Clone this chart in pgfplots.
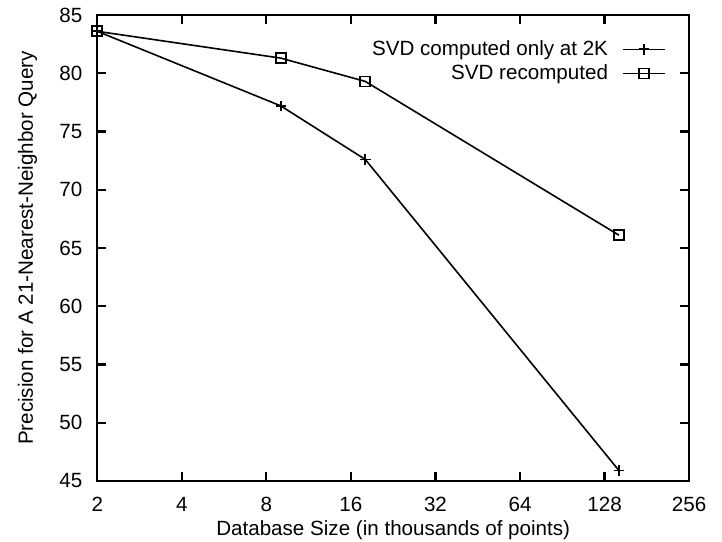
\documentclass[border=0pt]{standalone}
\usepackage{fontspec}
\setmainfont{Liberation Sans}
\usepackage{pgfplots}
\pgfplotsset{compat=1.18}
\begin{document}
\fontsize{10.3}{12}\selectfont
\begin{tikzpicture}
\useasboundingbox (-48.65pt,-30pt) rectangle (312.35pt,240.5pt);
\begin{axis}[
  anchor=south west, at={(0pt,0pt)},
  scale only axis,
  width=295.9pt, height=233pt,
  xmode=log, log basis x=2,
  xmin=2, xmax=256,
  ymin=45, ymax=85,
  xtick={2,4,8,16,32,64,128,256},
  xticklabels={2,4,8,16,32,64,128,256},
  ytick={45,50,55,60,65,70,75,80,85},
  minor tick num=0,
  tick align=inside,
  major tick length=4.5pt,
  /pgf/number format/assume math mode=true,
  tick label style={font=\fontsize{10.3}{12}\selectfont},
  xticklabel style={yshift=-4.5pt},
  yticklabel style={xshift=-3.9pt},
  label style={font=\fontsize{10.3}{12}\selectfont},
  axis line style={line width=1.1pt},
  every tick/.style={line width=1.1pt, black},
  xlabel={Database Size (in thousands of points)},
  ylabel={Precision for A 21-Nearest-Neighbor Query},
  xlabel style={at={(axis description cs:0.5,-0.1159)}, anchor=base},
  ylabel style={at={(axis description cs:-0.1087,0.5)}, anchor=base},
  legend plot pos=right,
  legend cell align=right,
  legend image code/.code={\draw[mark repeat=2,mark phase=2,#1] plot coordinates {(0pt,0pt) (10.5pt,0pt) (21pt,0pt)};},
  legend style={draw=none, fill=none, at={(axis description cs:0.961,0.955)}, anchor=north east,
    font=\fontsize{10.3}{12}\selectfont, row sep=-1pt, column sep=5pt, inner sep=0pt,
    nodes={inner sep=2pt}},
]
\addplot[black, line width=0.8pt, mark=+, mark size=2.6pt, mark options={line width=0.9pt}]
  coordinates {(2,83.6) (9,77.2) (18,72.6) (144,45.9)};
\addlegendentry{SVD computed only at 2K}
\addplot[black, line width=0.8pt, mark=square, mark size=2.5pt, mark options={line width=0.9pt}]
  coordinates {(2,83.6) (9,81.3) (18,79.3) (144,66.1)};
\addlegendentry{SVD recomputed}
\end{axis}
\end{tikzpicture}
\end{document}
